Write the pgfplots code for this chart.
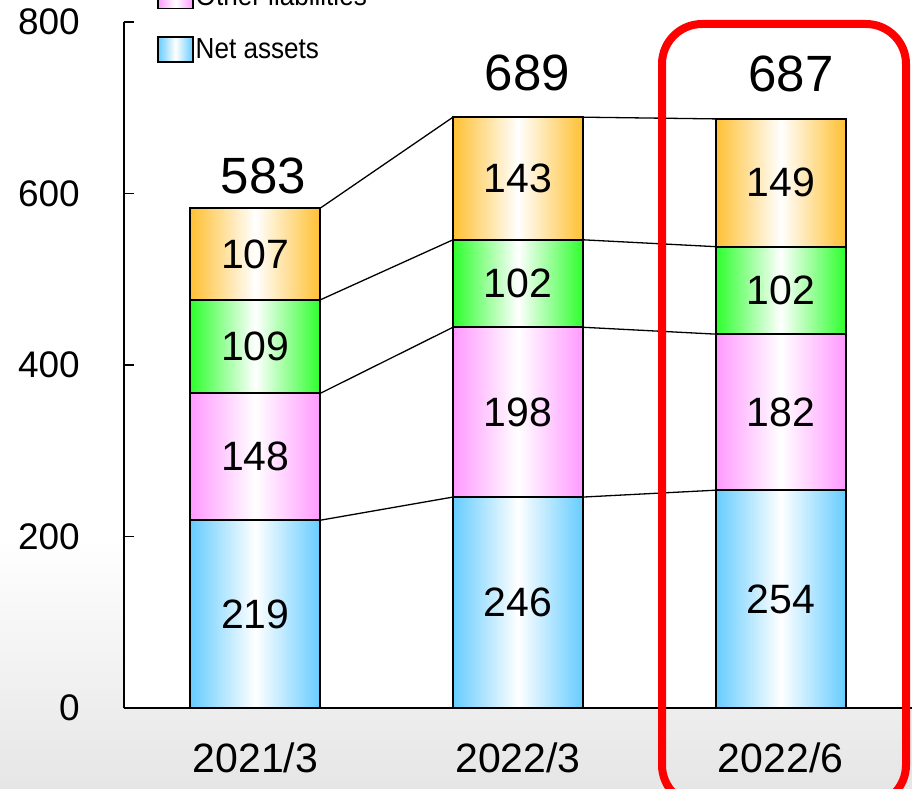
\documentclass[border=0pt]{standalone}
\usepackage{fontspec}
\setmainfont{Liberation Sans}
\newfontfamily\legfont[FakeStretch=0.9]{Liberation Sans}
\usepackage{pgfplots}
\pgfplotsset{compat=1.18}
\usepackage{pgfplotstable}

\definecolor{cOrange}{RGB}{255,192,51}
\definecolor{cGreen}{RGB}{45,255,45}
\definecolor{cPink}{RGB}{255,153,255}
\definecolor{cBlue}{RGB}{102,204,255}
\definecolor{cRed}{RGB}{255,0,0}

\pgfplotstableread{
x y l
0 109.5 219
0 293 148
0 421.5 109
0 529.5 107
1 123 246
1 345 198
1 495 102
1 617.5 143
2 127 254
2 345 182
2 487 102
2 612.5 149
}\seglabels

\pgfplotstableread{
x y l
0.03 620 583
1.035 741 689
2.04 739 687
}\totals

\pgfplotsset{
  base/.style={at={(0pt,0pt)}, anchor=south west,
    scale only axis, width=788pt, height=686pt,
    xmin=-0.5, xmax=2.5, ymin=0, ymax=800},
  barax/.style={base, ybar stacked, bar width=130pt},
  seg/.style={draw=black, line width=1.8pt, left color=#1, right color=#1, middle color=white},
}

\begin{document}
\begin{tikzpicture}
\fill[white] (-124pt,-80pt) rectangle (788pt,708pt);
\shade[top color=white, bottom color=black!10] (-124pt,-80pt) rectangle (788pt,170pt);
% bar 2021/3 with the axis lines
\begin{axis}[
  barax,
  axis background/.style={fill=white},
  axis lines=left, axis line style={-, line width=1.6pt, black},
  xtick={0,1,2}, xticklabels={2021/3,2022/3,2022/6},
  ytick={0,200,400,600,800},
  major tick length=10pt, tick align=inside,
  ytick style={line width=1.6pt, black}, xtick style={draw=none},
  /pgf/number format/assume math mode=true,
  yticklabel style={font=\fontsize{37}{37}\selectfont, inner sep=0pt, anchor=east, xshift=-44pt},
  xticklabel style={font=\fontsize{41}{41}\selectfont, inner sep=0pt, anchor=north, yshift=-35pt},
]
\addplot[seg=cBlue] coordinates {(0,219)};
\addplot[seg=cPink] coordinates {(0,148)};
\addplot[seg=cGreen] coordinates {(0,109)};
\addplot[seg=cOrange] coordinates {(0,107)};
\end{axis}
% bar 2022/3
\begin{axis}[barax, hide axis]
\addplot[seg=cBlue] coordinates {(1,246)};
\addplot[seg=cPink] coordinates {(1,198)};
\addplot[seg=cGreen] coordinates {(1,102)};
\addplot[seg=cOrange] coordinates {(1,143)};
\end{axis}
% bar 2022/6
\begin{axis}[barax, hide axis]
\addplot[seg=cBlue] coordinates {(2,254)};
\addplot[seg=cPink] coordinates {(2,182)};
\addplot[seg=cGreen] coordinates {(2,102)};
\addplot[seg=cOrange] coordinates {(2,149)};
\end{axis}
% connectors, labels, legend
\begin{axis}[
  base, hide axis, clip=false, unbounded coords=jump,
  legend style={at={(axis description cs:0.0419,0.9405)}, anchor=south west,
    draw=none, fill=none, inner sep=0pt, row sep=27pt,
    font=\legfont\fontsize{29}{29}\selectfont, cells={anchor=west},
    nodes={inner sep=2pt}},
  legend image code/.code={\draw[#1, line width=1.5pt] (0pt,-12.5pt) rectangle (35pt,12.5pt);},
]
\addlegendimage{draw=black, left color=cPink, right color=cPink, middle color=white}
\addlegendentry{Other liabilities}
\addlegendimage{draw=black, left color=cBlue, right color=cBlue, middle color=white}
\addlegendentry{Net assets}
\addplot[black, line width=1.3pt, forget plot] coordinates {
(0.2475,219)(0.7525,246)(0.5,nan)
(0.2475,367)(0.7525,444)(0.5,nan)
(0.2475,476)(0.7525,546)(0.5,nan)
(0.2475,583)(0.7525,689)(0.5,nan)
(1.2475,246)(1.7525,254)(1.5,nan)
(1.2475,444)(1.7525,436)(1.5,nan)
(1.2475,546)(1.7525,538)(1.5,nan)
(1.2475,689)(1.7525,687)
};
\addplot[draw=none, forget plot, nodes near coords, point meta=explicit symbolic,
  every node near coord/.append style={anchor=center, inner sep=0pt, font=\fontsize{41}{41}\selectfont}]
  table[x=x,y=y,meta=l]{\seglabels};
\addplot[draw=none, forget plot, nodes near coords, point meta=explicit symbolic,
  every node near coord/.append style={anchor=center, inner sep=0pt, font=\fontsize{51}{51}\selectfont}]
  table[x=x,y=y,meta=l]{\totals};
\end{axis}
\draw[cRed, line width=8pt, rounded corners=40pt] (538pt,-97pt) rectangle (782pt,684pt);
\pgfresetboundingbox
\useasboundingbox (-124pt,-80pt) rectangle (788pt,708pt);
\end{tikzpicture}
\end{document}
